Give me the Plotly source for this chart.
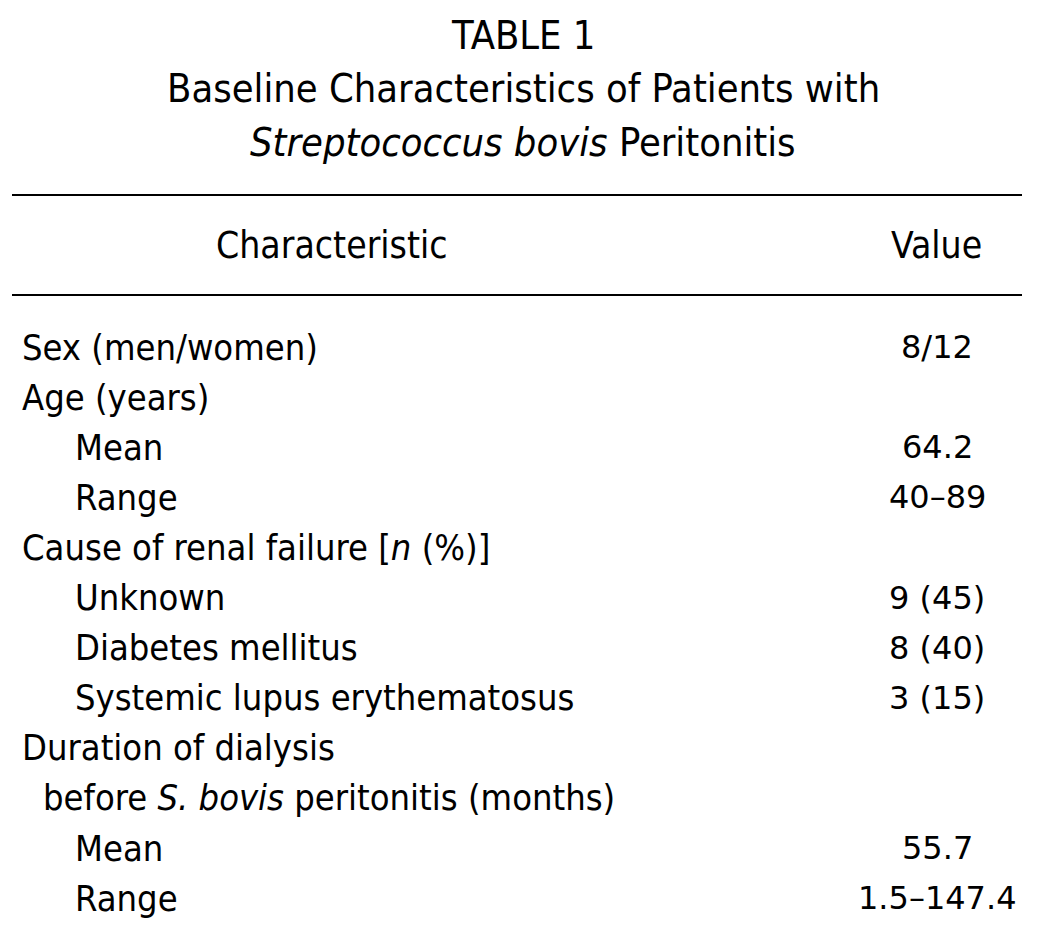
import plotly.graph_objects as go

# ---- Data ----
title_lines = ["TABLE 1",
               "Baseline Characteristics of Patients with",
               "<i>Streptococcus bovis</i> Peritonitis"]
col_headers = ["Characteristic", "Value"]
characteristics = ["Sex (men/women)",
                   "Age (years)",
                   "Mean",
                   "Range",
                   "Cause of renal failure [<i>n</i> (%)]",
                   "Unknown",
                   "Diabetes mellitus",
                   "Systemic lupus erythematosus",
                   "Duration of dialysis",
                   "before <i>S. bovis</i> peritonitis (months)",
                   "Mean",
                   "Range"]
indent_levels = [0, 0, 2, 2, 0, 2, 2, 2, 0, 1, 2, 2]
values = ["8/12", "", "64.2", "40–89", "", "9 (45)", "8 (40)", "3 (15)", "", "", "55.7", "1.5–147.4"]

W, H = 1037, 936
LABEL_FONT = "DejaVu Sans Condensed, Liberation Sans Narrow, sans-serif"
VALUE_FONT = "DejaVu Sans"
LS = 36
INDENT_PX = {0: 0, 1: 21, 2: 53}

fig = go.Figure()
fig.add_trace(go.Scatter(x=[0], y=[0], mode="markers", marker=dict(opacity=0), hoverinfo="skip", showlegend=False))

ann = []
title_y = [35, 88, 142]
for t, y in zip(title_lines, title_y):
    ann.append(dict(x=523, y=y, text=t, xanchor="center", yanchor="middle", showarrow=False,
                    font=dict(family=LABEL_FONT, size=39.5, color="black")))

ann.append(dict(x=332, y=245, text=col_headers[0], xanchor="center", yanchor="middle", showarrow=False,
                font=dict(family=LABEL_FONT, size=37, color="black")))
ann.append(dict(x=936, y=245, text=col_headers[1], xanchor="center", yanchor="middle", showarrow=False,
                font=dict(family=LABEL_FONT, size=37, color="black")))

row0, step = 347, 50.1
for i, (lab, lvl, val) in enumerate(zip(characteristics, indent_levels, values)):
    y = row0 + i * step
    ann.append(dict(x=20 + INDENT_PX[lvl], y=y, text=lab, xanchor="left", yanchor="middle", showarrow=False,
                    font=dict(family=LABEL_FONT, size=LS, color="black")))
    if val:
        ann.append(dict(x=937, y=y, text=val, xanchor="center", yanchor="middle", showarrow=False,
                        font=dict(family=VALUE_FONT, size=32, color="black")))

shapes = [dict(type="line", xref="x", yref="y", x0=12, x1=1022, y0=195, y1=195, line=dict(color="black", width=2)),
          dict(type="line", xref="x", yref="y", x0=12, x1=1022, y0=295, y1=295, line=dict(color="black", width=2))]

fig.update_layout(width=W, height=H, margin=dict(l=0, r=0, t=0, b=0),
                  paper_bgcolor="white", plot_bgcolor="white",
                  xaxis=dict(range=[0, W], visible=False, fixedrange=True),
                  yaxis=dict(range=[H, 0], visible=False, fixedrange=True),
                  annotations=ann, shapes=shapes, showlegend=False)

fig.write_html("out.html", config={"displayModeBar": False},
               post_script="document.body.style.margin='0';")
